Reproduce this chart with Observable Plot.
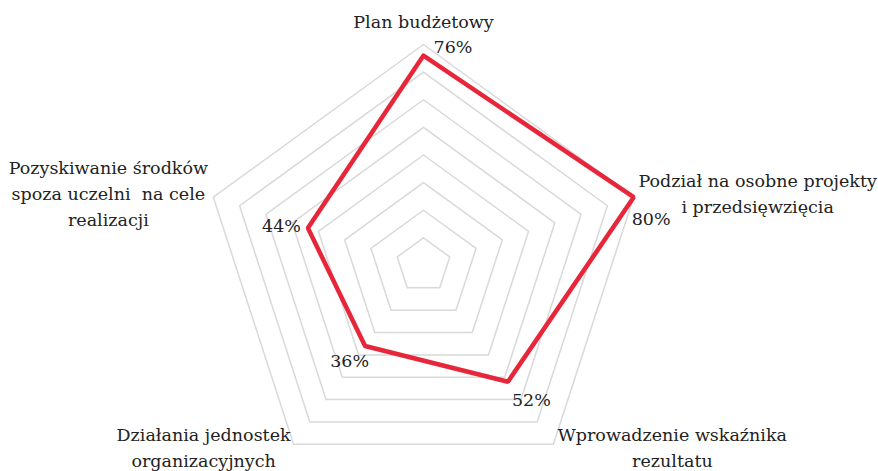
<!DOCTYPE html>
<html>
<head>
<meta charset="utf-8">
<script src="https://cdn.jsdelivr.net/npm/d3@7"></script>
<script src="https://cdn.jsdelivr.net/npm/@observablehq/plot@0.6"></script>
<style>
  html, body { margin: 0; padding: 0; background: #fff; }
  #chart { width: 878px; height: 471px; }
</style>
</head>
<body>
<div id="chart"></div>
<script>
// ---- Data ----
const categories = [
  "Plan budżetowy",
  "Podział na osobne projekty\ni przedsięwzięcia",
  "Wprowadzenie wskaźnika\nrezultatu",
  "Działania jednostek\norganizacyjnych",
  "Pozyskiwanie środków\nspoza uczelni  na cele\nrealizacji"
];
const values = [76, 80, 52, 36, 44];
const valueLabels = ["76%", "80%", "52%", "36%", "44%"];
const ringLevels = [10, 20, 30, 40, 50, 60, 70, 80];
const scaleMax = 80;

// ---- Layout (not data) ----
const W = 878, H = 471;
const cx = 423, cy = 265, R = 221;
const k = R / scaleMax;
const n = categories.length;
const angle = i => (2 * Math.PI * i) / n;
const px = (i, v) => v * Math.sin(angle(i));
const py = (i, v) => v * Math.cos(angle(i));

const ringData = [];
for (const lv of ringLevels) {
  for (let i = 0; i <= n; i++) ringData.push({ring: lv, x: px(i % n, lv), y: py(i % n, lv)});
}
const seriesData = [];
for (let i = 0; i <= n; i++) seriesData.push({x: px(i % n, values[i % n]), y: py(i % n, values[i % n])});

const catLayout = [
  {dx: 0, dy: -17},
  {dx: 124, dy: 16},
  {dx: 119, dy: 23},
  {dx: -90, dy: 23},
  {dx: -105, dy: 29}
];
const valLayout = [
  {dx: 10, dy: -3, anchor: "start"},
  {dx: -2, dy: 28, anchor: "start"},
  {dx: 4, dy: 24, anchor: "start"},
  {dx: 4, dy: 21, anchor: "end"},
  {dx: -7, dy: 4, anchor: "end"}
];

const font = "DejaVu Serif";
const fs = 17.5;

const marks = [
  Plot.line(ringData, {x: "x", y: "y", z: "ring", stroke: "#d9d9d9", strokeWidth: 1.5}),
  Plot.line(seriesData, {x: "x", y: "y", stroke: "#e8263a", strokeWidth: 4.5, strokeLinejoin: "miter"})
];
categories.forEach((c, i) => {
  marks.push(Plot.text([{x: px(i, scaleMax), y: py(i, scaleMax), t: c}], {
    x: "x", y: "y", text: "t", textAnchor: "middle", lineAnchor: "bottom", lineHeight: 26 / fs,
    dx: catLayout[i].dx, dy: catLayout[i].dy, fontSize: fs, fontFamily: font, fill: "#222"
  }));
});
values.forEach((v, i) => {
  marks.push(Plot.text([{x: px(i, v), y: py(i, v), t: valueLabels[i]}], {
    x: "x", y: "y", text: "t", textAnchor: valLayout[i].anchor, lineAnchor: "bottom",
    dx: valLayout[i].dx, dy: valLayout[i].dy, fontSize: fs, fontFamily: font, fill: "#222"
  }));
});

const chart = Plot.plot({
  width: W, height: H,
  margin: 0,
  style: {background: "#fff", overflow: "visible"},
  x: {domain: [-cx / k, (W - cx) / k], range: [0, W], axis: null},
  y: {domain: [-(H - cy) / k, cy / k], range: [H, 0], axis: null},
  marks
});
document.getElementById("chart").appendChild(chart);
</script>
</body>
</html>
